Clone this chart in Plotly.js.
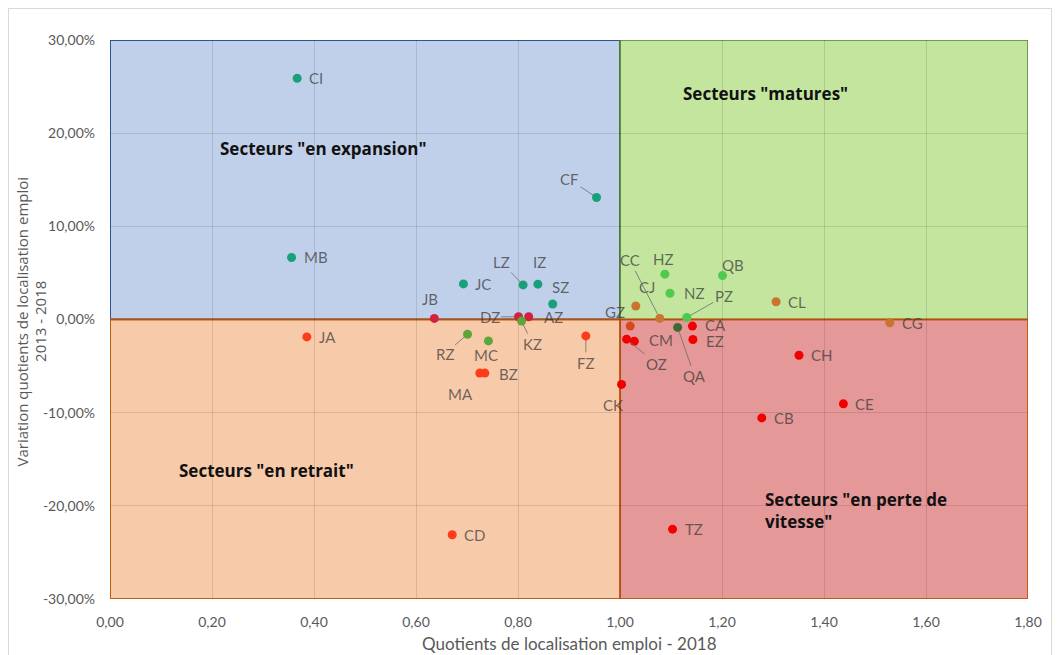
<!DOCTYPE html>
<html>
<head>
<meta charset="utf-8">
<script src="https://cdn.plot.ly/plotly-3.0.1.min.js"></script>
<style>
  html, body { margin: 0; padding: 0; background: #ffffff; }
  #frame { position: absolute; left: 8px; top: 8px; width: 1044px; height: 660px; border: 1px solid #d9d9d9; box-sizing: border-box; }
  #chart { position: absolute; left: 0; top: 0; width: 1060px; height: 655px; }
</style>
</head>
<body>
<div id="frame"></div>
<div id="chart"></div>
<script>
// ---- DATA ----
const sectors = ["CI","MB","CF","JC","LZ","IZ","SZ","JB","DZ","AZ","KZ","JA","RZ","MC","MA","BZ","FZ","CD",
                 "CK","GZ","OZ","CM","CJ","CC","HZ","NZ","PZ","QA","CA","EZ","QB","CL","CG","CH","CE","CB","TZ"];
const quotients2018 = [0.367,0.356,0.954,0.693,0.810,0.839,0.868,0.636,0.801,0.821,0.807,0.386,0.701,0.742,0.725,0.735,0.933,0.671,
                       1.003,1.020,1.013,1.028,1.031,1.078,1.088,1.098,1.131,1.113,1.142,1.143,1.201,1.306,1.529,1.351,1.438,1.278,1.103];
const variation2013_2018 = [0.259,0.0666,0.131,0.0382,0.0371,0.0379,0.0166,0.0012,0.0029,0.0029,-0.0017,-0.0187,-0.0158,-0.0230,-0.0575,-0.0575,-0.0176,-0.231,
                       -0.0697,-0.0071,-0.0211,-0.0233,0.0145,0.0012,0.0487,0.0282,0.0022,-0.0085,-0.0071,-0.0215,0.0471,0.0191,-0.0036,-0.0384,-0.0905,-0.1056,-0.225];
const xTickLabels = ["0,00","0,20","0,40","0,60","0,80","1,00","1,20","1,40","1,60","1,80"];
const yTickLabels = ["-30,00%","-20,00%","-10,00%","0,00%","10,00%","20,00%","30,00%"];
const quadrantNames = ['Secteurs "en expansion"', 'Secteurs "matures"', 'Secteurs "en retrait"', 'Secteurs "en perte de<br>vitesse"'];
const xAxisTitle = 'Quotients de localisation emploi - 2018';
const yAxisTitleLines = ['Variation quotients de localisation emploi', '2013 - 2018'];

// ---- STYLE ----
const C = {teal:'#18a07a', crimson:'#d0223f', green:'#5ea53a', orangered:'#ff3b1a', red:'#f20000',
           gz:'#d9481c', orange:'#c9742f', lime:'#4fca4f', dkgreen:'#3f6b30'};
const pointColors = [C.teal,C.teal,C.teal,C.teal,C.teal,C.teal,C.teal,C.crimson,C.crimson,C.crimson,C.green,C.orangered,C.green,C.green,C.orangered,C.orangered,C.orangered,C.orangered,
                     C.red,C.gz,C.red,C.red,C.orange,C.orange,C.lime,C.lime,C.lime,C.dkgreen,C.red,C.red,C.lime,C.orange,C.orange,C.red,C.red,C.red,C.red];
// label offsets in pixels [dx, dy(down), leader]
const labelOffsets = {
  CF:[-27,-18,1], LZ:[-22,-23,1], DZ:[-29,0,1], KZ:[11,23,1], RZ:[-23,20,1], FZ:[0,27,1],
  OZ:[30,25,1], CC:[-30,-58,1], PZ:[37,-21,1], QA:[17,49,1],
  IZ:[2,-22,0], SZ:[8,-17,0], JB:[-4,-19,0], AZ:[25,0,0], MC:[-2,14,0], BZ:[24,1,0],
  MA:[-19,21,0], GZ:[-15,-14,0], CM:[27,-1,0], CJ:[11,-19,0], HZ:[-2,-15,0], NZ:[24,0,0],
  CA:[23,-1,0], EZ:[22,1,0], QB:[10,-11,0], CK:[-9,21,0]
};
const FONT = 'Lato, "Open Sans", sans-serif';
const labelFont = {family: FONT, size: 15, color: 'rgba(55,55,55,0.72)'};

const annotations = [];
sectors.forEach((n, i) => {
  const o = labelOffsets[n];
  const base = {x: quotients2018[i], y: variation2013_2018[i], xref:'x', yref:'y', text: n, font: labelFont};
  if (!o) {
    annotations.push(Object.assign(base, {showarrow:false, xanchor:'left', xshift:10}));
  } else if (o[2]) {
    annotations.push(Object.assign(base, {showarrow:true, arrowhead:0, arrowwidth:1, arrowcolor:'rgba(110,110,110,0.8)',
      ax:o[0], ay:o[1], standoff:4}));
  } else {
    annotations.push(Object.assign(base, {showarrow:false, xanchor:'center', xshift:o[0], yshift:-o[1]}));
  }
});
const quadPos = [[0.418,0.184,'center'],[1.286,0.243,'center'],[0.306,-0.162,'center'],[1.280,-0.2055,'left']];
quadrantNames.forEach((t, i) => {
  annotations.push({x: quadPos[i][0], y: quadPos[i][1], xref:'x', yref:'y', text: '<b>' + t + '</b>',
    showarrow:false, xanchor: quadPos[i][2], align:'left', font: {family: '"Open Sans", Lato, sans-serif', size: 17, color:'#111111'}});
});
// axis titles
const titleFont = {family: FONT, size: 17, color:'#595959'};
annotations.push({xref:'paper', yref:'paper', x:0.501, y:-0.08, text: xAxisTitle, showarrow:false,
  xanchor:'center', yanchor:'middle', font: titleFont});
const yTitleX = [-0.0955, -0.0765];
yAxisTitleLines.forEach((t, i) => {
  annotations.push({xref:'paper', yref:'paper', x: yTitleX[i], y:0.497, text: t, showarrow:false,
    xanchor:'center', yanchor:'middle', textangle:-90, font: {family: '"Open Sans", Lato, sans-serif', size: 15, color:'#595959'}});
});

const shapes = [
  {type:'rect', xref:'x', yref:'y', x0:0, x1:1, y0:0, y1:0.3, fillcolor:'#c1d0ea', line:{color:'#2f5496', width:2}, layer:'below'},
  {type:'rect', xref:'x', yref:'y', x0:1, x1:1.8, y0:0, y1:0.3, fillcolor:'#c3e59e', line:{color:'#548235', width:1.5}, layer:'below'},
  {type:'rect', xref:'x', yref:'y', x0:0, x1:1, y0:-0.3, y1:0, fillcolor:'#f7caaa', line:{color:'#c55a11', width:2}, layer:'below'},
  {type:'rect', xref:'x', yref:'y', x0:1, x1:1.8, y0:-0.3, y1:0, fillcolor:'#e49898', line:{color:'#c55a11', width:2}, layer:'below'}
];

const trace = {
  type:'scatter', mode:'markers', x: quotients2018, y: variation2013_2018, text: sectors,
  marker:{size:9, color: pointColors, line:{width:0}}, hoverinfo:'text+x+y'
};

const xTickVals = xTickLabels.map((_, i) => i * 0.2);
const yTickVals = yTickLabels.map((_, i) => -0.3 + i * 0.1);

const layout = {
  width:1060, height:655,
  margin:{l:110, r:32, t:40, b:56},
  paper_bgcolor:'rgba(0,0,0,0)', plot_bgcolor:'rgba(0,0,0,0)',
  showlegend:false,
  font:{family: FONT, color:'#595959'},
  xaxis:{range:[0,1.8], tickvals:xTickVals, ticktext:xTickLabels, showgrid:true, gridcolor:'rgba(0,0,0,0.11)', gridwidth:1,
         zeroline:false, showline:false, ticks:'', tickfont:{size:14, color:'#595959'}, ticklabelstandoff:13},
  yaxis:{range:[-0.3,0.3], tickvals:yTickVals, ticktext:yTickLabels, showgrid:true, gridcolor:'rgba(0,0,0,0.11)', gridwidth:1,
         zeroline:false, showline:false, ticks:'', tickfont:{size:14, color:'#595959'}, ticklabelstandoff:14},
  shapes: shapes,
  annotations: annotations
};

Plotly.newPlot('chart', [trace], layout, {displayModeBar:false, staticPlot:true});
</script>
</body>
</html>
